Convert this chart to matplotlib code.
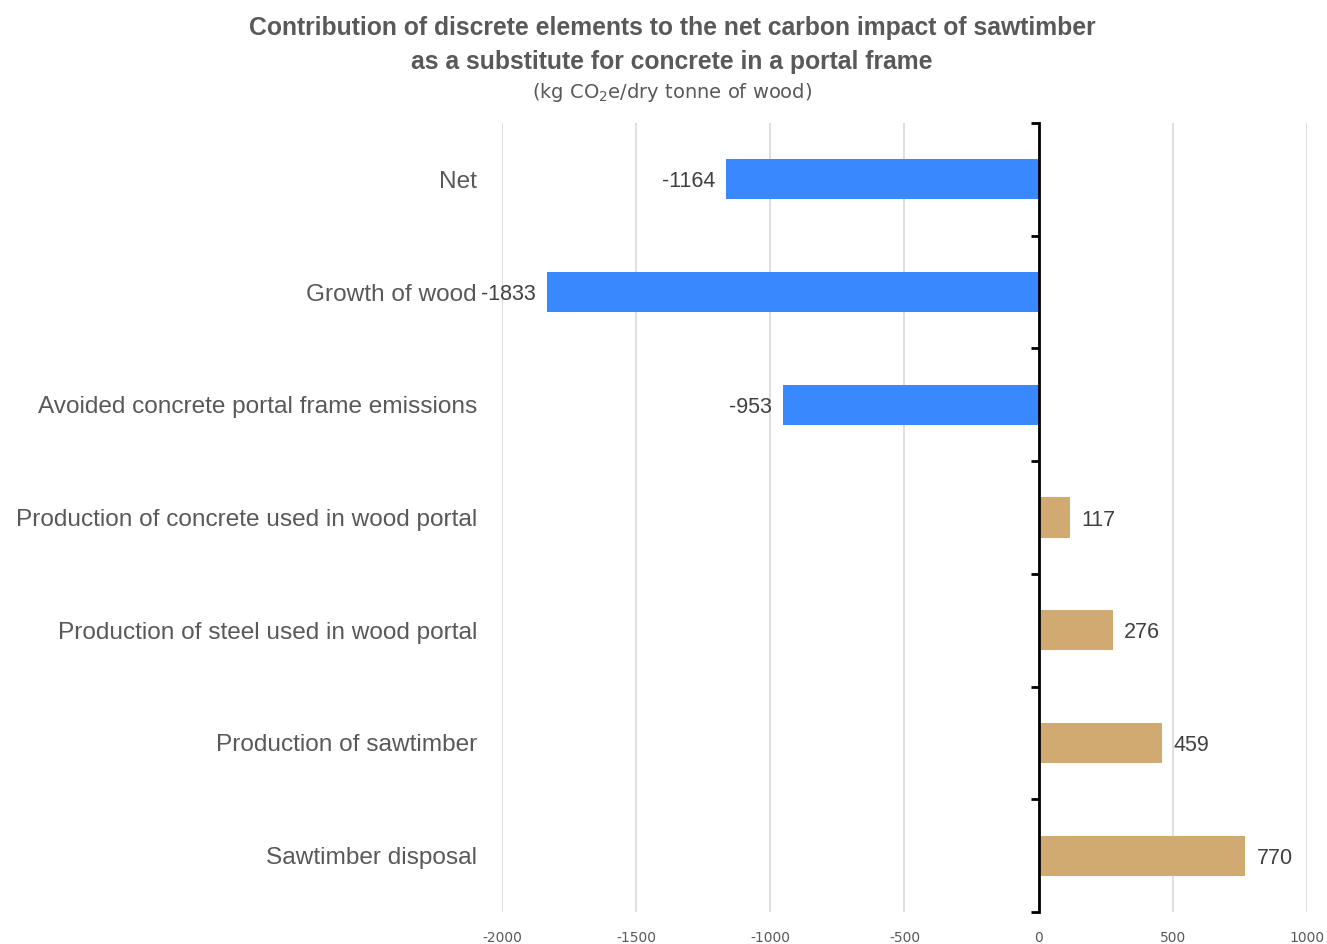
import matplotlib
matplotlib.use("Agg")
import matplotlib.pyplot as plt
import numpy as np

categories = [
    "Net",
    "Growth of wood",
    "Avoided concrete portal frame emissions",
    "Production of concrete used in wood portal",
    "Production of steel used in wood portal",
    "Production of sawtimber",
    "Sawtimber disposal",
]
values = [-1164, -1833, -953, 117, 276, 459, 770]
x_ticks = [-2000, -1500, -1000, -500, 0, 500, 1000]

BLUE = "#3A88FE"
TAN = "#D0AA70"
GRAY = "#595959"

fig = plt.figure(figsize=(13.27, 9.44), dpi=100)
ax = fig.add_axes([502 / 1327, 1 - 912 / 944, 805 / 1327, (912 - 123) / 944])

pos = np.arange(len(categories))
colors = [BLUE if v < 0 else TAN for v in values]
ax.barh(pos, values, height=0.355, color=colors, zorder=3)

ax.set_xlim(-2000, 1000)
ax.set_ylim(len(categories) - 0.5, -0.5)
ax.set_xticks(x_ticks)
ax.set_xticklabels([str(t) for t in x_ticks], fontsize=10, color=GRAY)
ax.tick_params(axis="x", length=0, pad=14)
ax.grid(axis="x", color="#D9D9D9", lw=1.2, zorder=0)
for s in ["top", "right", "bottom"]:
    ax.spines[s].set_visible(False)

# vertical axis at zero with ticks between categories
ax.spines["left"].set_position(("data", 0))
ax.spines["left"].set_linewidth(2)
ax.spines["left"].set_zorder(5)
ax.set_yticks(np.arange(-0.5, len(categories), 1.0))
ax.set_yticklabels([])
ax.tick_params(axis="y", direction="out", length=6, width=2, color="black")

# category labels along the left edge
lab = ax.secondary_yaxis("left")
lab.set_yticks(pos)
lab.set_yticklabels(categories, fontsize=17.6, color=GRAY, family="Liberation Sans")
lab.tick_params(axis="y", length=0, pad=18)
lab.spines["left"].set_visible(False)

# value labels
for p, v in zip(pos, values):
    if v < 0:
        ax.text(v - 40, p, str(v), ha="right", va="center_baseline", fontsize=15.5,
                color="#404040", family="Liberation Sans", zorder=4)
    else:
        ax.text(v + 42, p, str(v), ha="left", va="center_baseline", fontsize=15.5,
                color="#404040", family="Liberation Sans", zorder=4)

fig.text(0.5065, 1 - 28 / 944, "Contribution of discrete elements to the net carbon impact of sawtimber",
         ha="center", va="center", fontsize=17.8, fontweight="bold", color=GRAY,
         family="Liberation Sans")
fig.text(0.5065, 1 - 62 / 944, "as a substitute for concrete in a portal frame",
         ha="center", va="center", fontsize=17.8, fontweight="bold", color=GRAY,
         family="Liberation Sans")
fig.text(0.5065, 1 - 92 / 944, "(kg CO$_2$e/dry tonne of wood)",
         ha="center", va="center", fontsize=14, color=GRAY)

fig.savefig("out.png", dpi=100)
